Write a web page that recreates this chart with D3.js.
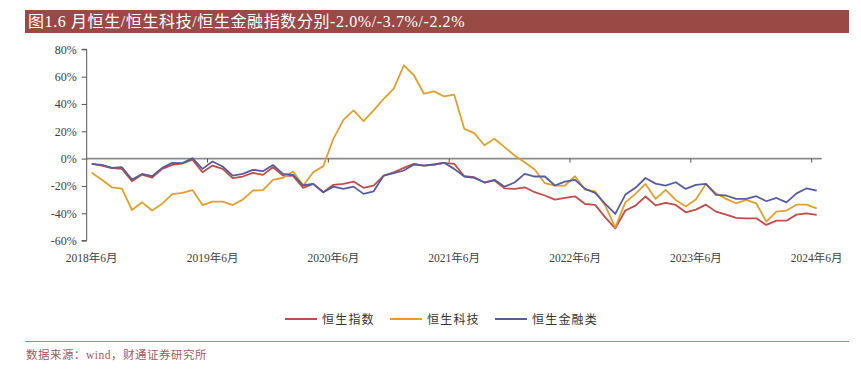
<!DOCTYPE html>
<html><head><meta charset="utf-8">
<script src="https://cdn.jsdelivr.net/npm/d3@7/dist/d3.min.js"></script>
<style>
body{margin:0;background:#fff;}
svg{display:block;}
</style></head>
<body>
<svg id="chart" width="861" height="370"></svg>
<script>
const titleText = "图1.6 月恒生/恒生科技/恒生金融指数分别-2.0%/-3.7%/-2.2%";
const sourceText = "数据来源：wind，财通证券研究所";
const seriesNames = ["恒生指数", "恒生科技", "恒生金融类"];
const startYear = 2018, startMonth = 6, monthCount = 73;
const yTicks = [80, 60, 40, 20, 0, -20, -40, -60];

const hsi = [-3.8,-5.1,-7.0,-7.5,-16.5,-11.7,-13.9,-7.5,-4.6,-3.6,-0.7,-10.0,
  -5.1,-7.5,-14.3,-13.1,-10.4,-11.9,-6.3,-12.4,-12.6,-21.4,-18.5,-24.6,
  -19.2,-18.5,-16.8,-21.4,-19.7,-12.4,-10.0,-6.8,-3.8,-5.1,-4.3,-3.1,
  -3.8,-12.9,-13.6,-17.5,-16.0,-21.8,-22.2,-21.0,-24.6,-27.0,-30.0,-28.8,
  -27.6,-33.2,-33.9,-43.0,-51.0,-38.0,-34.4,-27.7,-34.2,-32.4,-33.9,-39.3,
  -37.3,-33.7,-38.8,-41.0,-43.4,-43.7,-43.7,-48.5,-45.4,-45.4,-41.0,-40.0,-41.2];
const hstech = [-10.4,-15.5,-21.0,-22.0,-37.6,-32.0,-38.0,-33.0,-26.0,-25.0,-23.0,-34.0,
  -31.5,-31.5,-34.0,-30.0,-23.4,-23.0,-15.5,-14.0,-9.5,-19.7,-10.0,-5.5,
  14.5,28.4,35.3,27.4,35.3,43.8,51.2,68.3,61.0,47.5,49.2,45.5,
  46.8,21.8,18.6,9.8,14.5,8.4,2.3,-2.6,-8.0,-18.0,-19.7,-19.7,
  -12.9,-22.7,-23.9,-34.4,-50.3,-32.0,-25.8,-18.5,-29.5,-22.9,-30.2,-35.1,
  -30.0,-18.5,-25.4,-29.5,-32.7,-30.2,-32.7,-46.1,-38.8,-38.0,-33.7,-33.7,-36.4];
const hsfin = [-3.8,-4.6,-6.8,-6.3,-15.3,-11.2,-12.9,-6.8,-3.1,-3.3,0.3,-7.5,
  -2.1,-5.8,-12.4,-11.2,-8.2,-9.2,-4.6,-11.2,-11.9,-19.5,-18.5,-24.6,
  -20.5,-22.2,-20.5,-25.8,-23.9,-12.4,-10.7,-8.7,-4.3,-5.1,-4.3,-3.1,
  -7.5,-13.1,-14.1,-17.5,-15.5,-20.5,-17.5,-11.2,-13.1,-13.1,-19.7,-16.8,
  -15.6,-22.2,-25.1,-33.2,-40.5,-26.3,-21.4,-14.2,-18.3,-19.7,-17.3,-22.2,
  -19.2,-18.5,-26.6,-27.0,-29.5,-29.5,-27.5,-31.2,-28.8,-32.0,-25.4,-21.7,-23.4];

const colors = ["#BF4D4A", "#E0A030", "#575D9C"];
const seriesData = [hsi, hstech, hsfin];

const months = d3.range(monthCount).map(i => {
  const m0 = startMonth - 1 + i;
  return (startYear + Math.floor(m0 / 12)) + "年" + (m0 % 12 + 1) + "月";
});

const svg = d3.select("#chart");
const serif = "'Liberation Serif','Times New Roman','Noto Sans CJK SC',serif";
const cjk = "'Liberation Serif','Noto Sans CJK SC',sans-serif";

// Title bar
svg.append("rect").attr("x", 25).attr("y", 10).attr("width", 824).attr("height", 23).attr("fill", "#9A4A45");
svg.append("text").attr("x", 28).attr("y", 27).attr("fill", "#fff")
  .attr("font-family", cjk).attr("font-size", 16).attr("letter-spacing", 0.6).text(titleText);

const x = d3.scalePoint().domain(months).range([86.7, 821.7]).padding(0.5);
const y = d3.scaleLinear().domain([-60, 80]).range([240.6, 49.3]);
const step = x.step();

// zero line
svg.append("line").attr("x1", 86.7).attr("x2", 821.7).attr("y1", y(0)).attr("y2", y(0))
  .attr("stroke", "#8a8a8a").attr("stroke-width", 1.6);
// ticks on zero line
months.forEach((m, i) => {
  if (i % 12 === 0 && i > 0) {
    const tx = x(m) - step / 2;
    svg.append("line").attr("x1", tx).attr("x2", tx).attr("y1", y(0)).attr("y2", y(0) + 4)
      .attr("stroke", "#555").attr("stroke-width", 1);
  }
});

// y axis
const yAxis = d3.axisLeft(y).tickValues(yTicks).tickSize(5).tickPadding(5).tickFormat(d => d + "%");
const gy = svg.append("g").attr("transform", "translate(86.7,0)").call(yAxis);
gy.select(".domain").attr("stroke", "#555").attr("d", `M-5,${y(80)}H0V${y(-60)}H-5`);
gy.selectAll(".tick line").attr("stroke", "#555");
gy.selectAll("text").attr("font-family", serif).attr("font-size", 12).attr("fill", "#404040");

// x labels
const xLabels = months.filter((m, i) => i % 12 === 0);
svg.append("g").selectAll("text").data(xLabels).join("text")
  .attr("x", d => x(d)).attr("y", 262).attr("text-anchor", "middle")
  .attr("font-family", cjk).attr("font-size", 11.5).attr("fill", "#404040")
  .text(d => d);

// lines
const line = d3.line().x((d, i) => x(months[i])).y(d => y(d));
seriesData.forEach((s, k) => {
  svg.append("path").datum(s).attr("d", line).attr("fill", "none")
    .attr("stroke", colors[k]).attr("stroke-width", 1.8).attr("stroke-linejoin", "round");
});

// legend
const legendX = [285, 390, 495];
seriesNames.forEach((n, k) => {
  svg.append("line").attr("x1", legendX[k]).attr("x2", legendX[k] + 32).attr("y1", 319).attr("y2", 319)
    .attr("stroke", colors[k]).attr("stroke-width", 2);
  svg.append("text").attr("x", legendX[k] + 37).attr("y", 323.5)
    .attr("font-family", cjk).attr("font-size", 12).attr("letter-spacing", 1.2)
    .attr("fill", "#333").text(n);
});

// footer
svg.append("line").attr("x1", 25).attr("x2", 849).attr("y1", 341.5).attr("y2", 341.5)
  .attr("stroke", "#C08484").attr("stroke-width", 1);
svg.append("text").attr("x", 26).attr("y", 359).attr("font-family", cjk).attr("font-size", 11.5)
  .attr("letter-spacing", 0.5).attr("fill", "#A05A5A").text(sourceText);
</script>
</body></html>
